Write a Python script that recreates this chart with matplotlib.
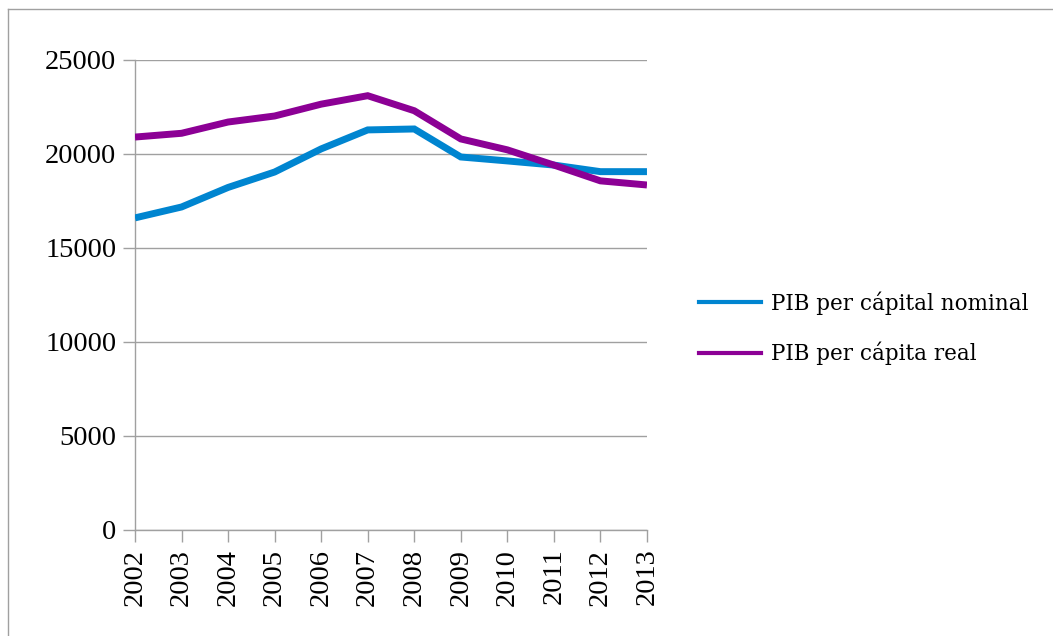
import matplotlib
matplotlib.use("Agg")
import matplotlib.pyplot as plt
from matplotlib.lines import Line2D

years = ["2002", "2003", "2004", "2005", "2006", "2007",
         "2008", "2009", "2010", "2011", "2012", "2013"]
pib_nominal = [16600, 17180, 18220, 19040, 20270, 21280,
               21330, 19840, 19630, 19410, 19060, 19060]
pib_real = [20900, 21100, 21700, 22020, 22650, 23100,
            22300, 20800, 20220, 19410, 18570, 18350]
y_ticks = [0, 5000, 10000, 15000, 20000, 25000]

blue = "#0085d0"
purple = "#8c0095"
gray = "#a0a0a0"

fig = plt.figure(figsize=(10.53, 6.36), dpi=100)
ax = fig.add_axes([0.1282, 0.1667, 0.4862, 0.739])

x = range(len(years))
ax.plot(x, pib_nominal, color=blue, lw=5, solid_joinstyle="miter",
        solid_capstyle="butt", zorder=3)
ax.plot(x, pib_real, color=purple, lw=5, solid_joinstyle="miter",
        solid_capstyle="butt", zorder=4)

ax.set_xlim(0, len(years) - 1)
ax.set_ylim(0, 25000)
ax.set_yticks(y_ticks)
ax.set_xticks(list(x))
ax.set_xticklabels(years, rotation=90)
ax.yaxis.grid(True, color=gray, lw=1)
ax.set_axisbelow(True)

for s in ["top", "right"]:
    ax.spines[s].set_visible(False)
for s in ["left", "bottom"]:
    ax.spines[s].set_color(gray)
    ax.spines[s].set_linewidth(1)

ax.tick_params(axis="both", colors=gray, length=8.5, width=1, direction="out",
               labelcolor="black", labelsize=20.5)
ax.tick_params(axis="y", pad=5)
ax.tick_params(axis="x", pad=5)
for lab in ax.get_xticklabels() + ax.get_yticklabels():
    lab.set_family("Liberation Serif")

handles = [Line2D([], [], color=blue, lw=3),
           Line2D([], [], color=purple, lw=3)]
fig.legend(handles, ["PIB per cápital nominal", "PIB per cápita real"],
           loc="center left", bbox_to_anchor=(0.645, 0.484), frameon=False,
           prop={"family": "DejaVu Serif", "size": 15.5}, handlelength=2.9,
           handletextpad=0.45, labelspacing=1.25)

# outer chart frame (left and top edges visible)
fig.add_artist(Line2D([0.0076, 0.0076], [0, 0.986], color=gray, lw=1,
                      transform=fig.transFigure))
fig.add_artist(Line2D([0.0076, 1], [0.986, 0.986], color=gray, lw=1,
                      transform=fig.transFigure))

fig.savefig("out.png", dpi=100)
